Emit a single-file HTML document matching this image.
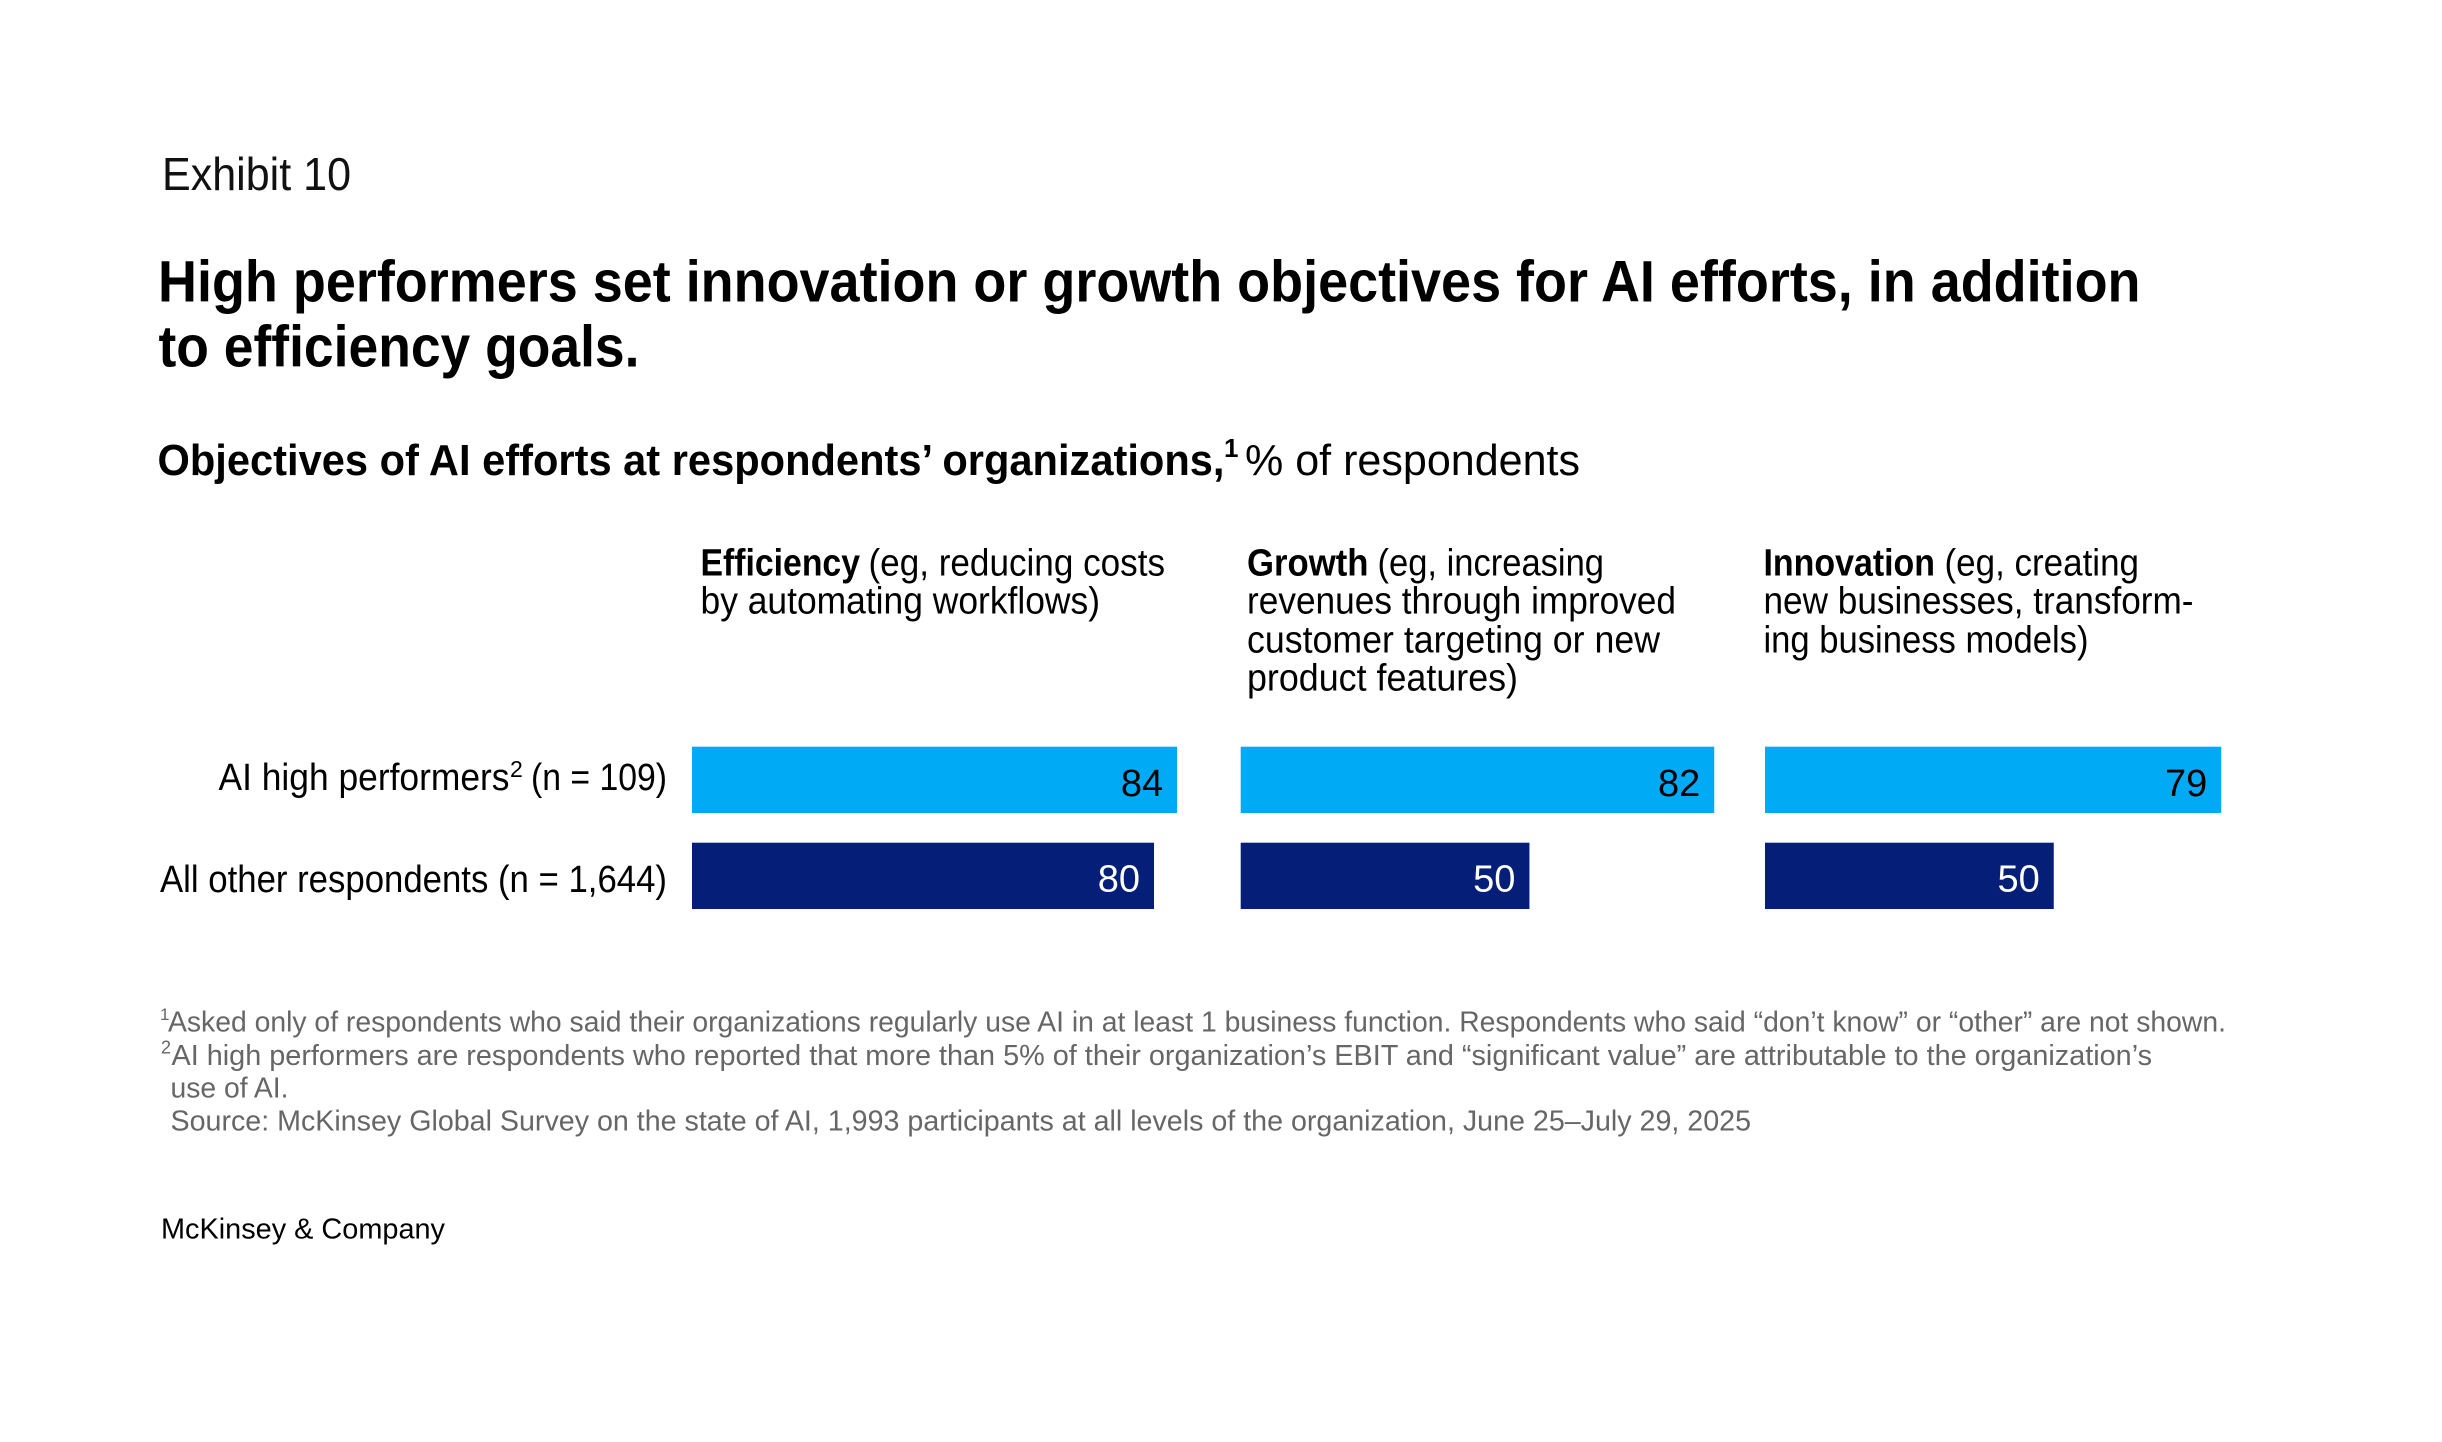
<!DOCTYPE html>
<html lang="en">
<head>
<meta charset="utf-8">
<title>Exhibit 10</title>
<style>
html,body{margin:0;padding:0;background:#fff;width:2442px;height:1442px;overflow:hidden}
svg{display:block;font-family:"Liberation Sans",Arial,sans-serif}
.note{font-size:29px;fill:#666}
.col{font-size:38px;fill:#000}
.b{font-weight:700}
</style>
</head>
<body>
<svg id="chart" xmlns="http://www.w3.org/2000/svg" width="2442" height="1442" viewBox="0 0 2442 1442">
  <text x="162" y="190" font-size="46" fill="#111" textLength="189" lengthAdjust="spacingAndGlyphs">Exhibit 10</text>

  <text x="158" y="301.5" font-size="58" class="b" textLength="1982.5" lengthAdjust="spacingAndGlyphs">High performers set innovation or growth objectives for AI efforts, in addition</text>
  <text x="158.5" y="366.5" font-size="58" class="b" textLength="481" lengthAdjust="spacingAndGlyphs">to efficiency goals.</text>

  <text x="157.5" y="475" font-size="44" class="b" textLength="1067" lengthAdjust="spacingAndGlyphs">Objectives of AI efforts at respondents’ organizations,</text>
  <text x="1224" y="457" font-size="26" class="b">1</text>
  <text x="1245" y="475" font-size="44" textLength="335" lengthAdjust="spacingAndGlyphs">% of respondents</text>

  <g>
    <text x="700.5" y="575.5" class="col b" textLength="159.5" lengthAdjust="spacingAndGlyphs">Efficiency</text>
    <text x="868.5" y="575.5" class="col" textLength="296.5" lengthAdjust="spacingAndGlyphs">(eg, reducing costs</text>
    <text x="700.5" y="613.5" class="col" textLength="399.5" lengthAdjust="spacingAndGlyphs">by automating workflows)</text>
  </g>
  <g>
    <text x="1247" y="575.5" class="col b" textLength="121.5" lengthAdjust="spacingAndGlyphs">Growth</text>
    <text x="1377.5" y="575.5" class="col" textLength="226.5" lengthAdjust="spacingAndGlyphs">(eg, increasing</text>
    <text x="1247" y="613.5" class="col" textLength="429" lengthAdjust="spacingAndGlyphs">revenues through improved</text>
    <text x="1247" y="652.5" class="col" textLength="413" lengthAdjust="spacingAndGlyphs">customer targeting or new</text>
    <text x="1247" y="690.5" class="col" textLength="271" lengthAdjust="spacingAndGlyphs">product features)</text>
  </g>
  <g>
    <text x="1763.5" y="575.5" class="col b" textLength="171.5" lengthAdjust="spacingAndGlyphs">Innovation</text>
    <text x="1944.5" y="575.5" class="col" textLength="194.5" lengthAdjust="spacingAndGlyphs">(eg, creating</text>
    <text x="1763.5" y="613.5" class="col" textLength="430" lengthAdjust="spacingAndGlyphs">new businesses, transform-</text>
    <text x="1763.5" y="652.5" class="col" textLength="325" lengthAdjust="spacingAndGlyphs">ing business models)</text>
  </g>

  <g>
    <text x="218.5" y="790" font-size="38" textLength="291" lengthAdjust="spacingAndGlyphs">AI high performers</text>
    <text x="510" y="777" font-size="23">2</text>
    <text x="531" y="790" font-size="38" textLength="136" lengthAdjust="spacingAndGlyphs">(n = 109)</text>
  </g>
  <text x="160" y="892" font-size="38" textLength="507" lengthAdjust="spacingAndGlyphs">All other respondents (n = 1,644)</text>

  <g id="bars"></g>

  <g>
    <text x="160" y="1020" font-size="17" fill="#666">1</text>
    <text x="168" y="1031.5" class="note" textLength="2058" lengthAdjust="spacingAndGlyphs">Asked only of respondents who said their organizations regularly use AI in at least 1 business function. Respondents who said “don’t know” or “other” are not shown.</text>
    <text x="161" y="1053.5" font-size="18" fill="#666">2</text>
    <text x="171.5" y="1065" class="note" textLength="1980.5" lengthAdjust="spacingAndGlyphs">AI high performers are respondents who reported that more than 5% of their organization’s EBIT and “significant value” are attributable to the organization’s</text>
    <text x="170.5" y="1097.5" class="note" textLength="118" lengthAdjust="spacingAndGlyphs">use of AI.</text>
    <text x="170.5" y="1130.5" class="note" textLength="1580.5" lengthAdjust="spacingAndGlyphs">Source: McKinsey Global Survey on the state of AI, 1,993 participants at all levels of the organization, June 25–July 29, 2025</text>
  </g>

  <text x="161" y="1238.5" font-size="29" textLength="284" lengthAdjust="spacingAndGlyphs">McKinsey &amp; Company</text>
</svg>
<script>
const categories = ['efficiency', 'growth', 'innovation'];
const highPerformers = [84, 82, 79];
const otherRespondents = [80, 50, 50];

const svgNS = 'http://www.w3.org/2000/svg';
const barsGroup = document.getElementById('bars');
const panelLeft = { efficiency: 692, growth: 1240.7, innovation: 1765 };
const pxPerPoint = 5.775;

function xScale(panel, value) {
  return panelLeft[panel] + value * pxPerPoint;
}

function drawRow(values, rowName, top, height, fill, labelFill, baseline) {
  values.forEach(function (value, i) {
    const panel = categories[i];
    const x0 = xScale(panel, 0);
    const x1 = xScale(panel, value);

    const rect = document.createElementNS(svgNS, 'rect');
    rect.setAttribute('x', x0);
    rect.setAttribute('y', top);
    rect.setAttribute('width', x1 - x0);
    rect.setAttribute('height', height);
    rect.setAttribute('fill', fill);
    
    
    barsGroup.appendChild(rect);

    const label = document.createElementNS(svgNS, 'text');
    label.setAttribute('x', x1 - 14);
    label.setAttribute('y', baseline);
    label.setAttribute('text-anchor', 'end');
    label.setAttribute('font-size', '38');
    label.setAttribute('fill', labelFill);
    
    
    label.textContent = String(value);
    barsGroup.appendChild(label);
  });
}

drawRow(highPerformers, 'high-performers', 746.7, 66.3, '#00AAF5', '#000000', 796);
drawRow(otherRespondents, 'other-respondents', 842.7, 66.3, '#051F79', '#FFFFFF', 891.5);
</script>
</body>
</html>
